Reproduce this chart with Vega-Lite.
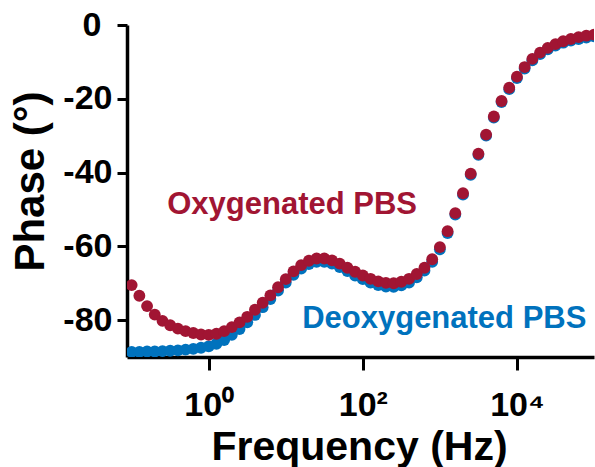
{
  "$schema": "https://vega.github.io/schema/vega-lite/v6.json",
  "width": 467,
  "height": 332,
  "autosize": {"type": "none"},
  "padding": {"left": 127, "top": 25, "right": 1, "bottom": 110},
  "background": "white",
  "config": {
    "view": {"stroke": null},
    "axis": {
      "domainColor": "black", "domainWidth": 3.5, "tickColor": "black", "tickWidth": 3,
      "labelFont": "Liberation Sans", "labelFontWeight": "bold", "labelFontSize": 34, "labelColor": "black",
      "titleFont": "Liberation Sans", "titleFontWeight": "bold", "titleFontSize": 41, "titleColor": "black",
      "grid": false
    }
  },
  "datasets": {
    "pts": [
      {"f":0.1,"s":"D","p":-88.6},{"f":0.12589,"s":"D","p":-88.6},{"f":0.15849,"s":"D","p":-88.5},{"f":0.19953,"s":"D","p":-88.5},{"f":0.25119,"s":"D","p":-88.4},{"f":0.31623,"s":"D","p":-88.3},{"f":0.39811,"s":"D","p":-88.2},{"f":0.50119,"s":"D","p":-88.0},{"f":0.63096,"s":"D","p":-87.8},{"f":0.79433,"s":"D","p":-87.5},
      {"f":1,"s":"D","p":-87.1},{"f":1.2589,"s":"D","p":-86.4},{"f":1.5849,"s":"D","p":-85.4},{"f":1.9953,"s":"D","p":-84.0},{"f":2.5119,"s":"D","p":-82.4},{"f":3.1623,"s":"D","p":-80.6},{"f":3.9811,"s":"D","p":-78.6},{"f":5.0119,"s":"D","p":-76.5},{"f":6.3096,"s":"D","p":-74.3},{"f":7.9433,"s":"D","p":-72.0},
      {"f":10,"s":"D","p":-69.8},{"f":12.589,"s":"D","p":-67.7},{"f":15.849,"s":"D","p":-66.0},{"f":19.953,"s":"D","p":-64.8},{"f":25.119,"s":"D","p":-64.2},{"f":31.623,"s":"D","p":-64.2},{"f":39.811,"s":"D","p":-64.7},{"f":50.119,"s":"D","p":-65.6},{"f":63.096,"s":"D","p":-66.7},{"f":79.433,"s":"D","p":-67.9},
      {"f":100,"s":"D","p":-68.9},{"f":125.89,"s":"D","p":-69.8},{"f":158.49,"s":"D","p":-70.5},{"f":199.53,"s":"D","p":-70.9},{"f":251.19,"s":"D","p":-71.0},{"f":316.23,"s":"D","p":-70.6},{"f":398.11,"s":"D","p":-69.8},{"f":501.19,"s":"D","p":-68.4},{"f":630.96,"s":"D","p":-66.6},{"f":794.33,"s":"D","p":-64.2},
      {"f":1000,"s":"D","p":-60.8},{"f":1258.9,"s":"D","p":-56.4},{"f":1584.9,"s":"D","p":-51.4},{"f":1995.3,"s":"D","p":-46.0},{"f":2511.9,"s":"D","p":-40.6},{"f":3162.3,"s":"D","p":-35.2},{"f":3981.1,"s":"D","p":-30.0},{"f":5011.9,"s":"D","p":-25.1},{"f":6309.6,"s":"D","p":-20.9},{"f":7943.3,"s":"D","p":-17.4},
      {"f":10000,"s":"D","p":-14.4},{"f":12589,"s":"D","p":-11.8},{"f":15849,"s":"D","p":-9.6},{"f":19953,"s":"D","p":-7.9},{"f":25119,"s":"D","p":-6.6},{"f":31623,"s":"D","p":-5.6},{"f":39811,"s":"D","p":-4.8},{"f":50119,"s":"D","p":-4.2},{"f":63096,"s":"D","p":-3.8},{"f":79433,"s":"D","p":-3.4},{"f":100000,"s":"D","p":-3.1},
      {"f":0.1,"s":"O","p":-70.5},{"f":0.12589,"s":"O","p":-73.4},{"f":0.15849,"s":"O","p":-76.2},{"f":0.19953,"s":"O","p":-78.5},{"f":0.25119,"s":"O","p":-80.2},{"f":0.31623,"s":"O","p":-81.4},{"f":0.39811,"s":"O","p":-82.3},{"f":0.50119,"s":"O","p":-83.0},{"f":0.63096,"s":"O","p":-83.5},{"f":0.79433,"s":"O","p":-83.9},
      {"f":1,"s":"O","p":-84.0},{"f":1.2589,"s":"O","p":-83.7},{"f":1.5849,"s":"O","p":-83.0},{"f":1.9953,"s":"O","p":-81.9},{"f":2.5119,"s":"O","p":-80.6},{"f":3.1623,"s":"O","p":-79.1},{"f":3.9811,"s":"O","p":-77.2},{"f":5.0119,"s":"O","p":-75.3},{"f":6.3096,"s":"O","p":-73.3},{"f":7.9433,"s":"O","p":-71.1},
      {"f":10,"s":"O","p":-68.9},{"f":12.589,"s":"O","p":-66.8},{"f":15.849,"s":"O","p":-65.1},{"f":19.953,"s":"O","p":-63.9},{"f":25.119,"s":"O","p":-63.3},{"f":31.623,"s":"O","p":-63.3},{"f":39.811,"s":"O","p":-63.8},{"f":50.119,"s":"O","p":-64.7},{"f":63.096,"s":"O","p":-65.8},{"f":79.433,"s":"O","p":-66.9},
      {"f":100,"s":"O","p":-67.9},{"f":125.89,"s":"O","p":-68.8},{"f":158.49,"s":"O","p":-69.5},{"f":199.53,"s":"O","p":-69.9},{"f":251.19,"s":"O","p":-70.0},{"f":316.23,"s":"O","p":-69.6},{"f":398.11,"s":"O","p":-68.8},{"f":501.19,"s":"O","p":-67.5},{"f":630.96,"s":"O","p":-65.8},{"f":794.33,"s":"O","p":-63.5},
      {"f":1000,"s":"O","p":-60.2},{"f":1258.9,"s":"O","p":-55.9},{"f":1584.9,"s":"O","p":-51.0},{"f":1995.3,"s":"O","p":-45.6},{"f":2511.9,"s":"O","p":-40.3},{"f":3162.3,"s":"O","p":-34.9},{"f":3981.1,"s":"O","p":-29.7},{"f":5011.9,"s":"O","p":-24.8},{"f":6309.6,"s":"O","p":-20.6},{"f":7943.3,"s":"O","p":-17.0},
      {"f":10000,"s":"O","p":-14.0},{"f":12589,"s":"O","p":-11.4},{"f":15849,"s":"O","p":-9.2},{"f":19953,"s":"O","p":-7.5},{"f":25119,"s":"O","p":-6.2},{"f":31623,"s":"O","p":-5.2},{"f":39811,"s":"O","p":-4.4},{"f":50119,"s":"O","p":-3.8},{"f":63096,"s":"O","p":-3.3},{"f":79433,"s":"O","p":-2.9},{"f":100000,"s":"O","p":-2.6}
    ],
    "labels": [
      {"f":12.1,"p":-51.2,"t":"Oxygenated PBS","s":"O"},
      {"f":1140,"p":-82.2,"t":"Deoxygenated PBS","s":"D"}
    ]
  },
  "layer": [
    {
      "data": {"name": "pts"},
      "mark": {"type": "point", "filled": true, "opacity": 1, "size": 140, "clip": true},
      "encoding": {
        "x": {"field": "f", "type": "quantitative",
          "scale": {"type": "log", "domain": [0.087, 100000], "nice": false},
          "axis": {"values": [1, 100, 10000], "tickSize": 13, "labelBaseline": "alphabetic", "labelPadding": 45,
            "labelExpr": "datum.value == 1 ? '10⁰' : datum.value == 100 ? '10²' : '10⁴'",
            "title": "Frequency (Hz)", "titleBaseline": "alphabetic", "titleAnchor": "middle", "titleX": 232, "titleY": 102}},
        "y": {"field": "p", "type": "quantitative",
          "scale": {"domain": [-90, 0], "nice": false, "zero": false},
          "axis": {"values": [-80, -60, -40, -20, 0], "tickSize": 10,
            "labelPadding": {"condition": {"test": "datum.value == 0", "value": 16}, "value": 5},
            "labelExpr": "'' + datum.value",
            "title": "Phase (°)", "titleFontSize": 42, "titleAngle": -90, "titleBaseline": "alphabetic", "titleAlign": "center", "titleX": -84, "titleY": 156}},
        "color": {"field": "s", "type": "nominal", "scale": {"domain": ["D", "O"], "range": ["#0072BD", "#A11533"]}, "legend": null},
        "order": {"field": "s", "type": "nominal", "sort": "ascending"}
      }
    },
    {
      "data": {"name": "labels"},
      "mark": {"type": "text", "font": "Liberation Sans", "fontWeight": "bold", "fontSize": 31, "align": "center", "baseline": "alphabetic"},
      "encoding": {
        "x": {"field": "f", "type": "quantitative"},
        "y": {"field": "p", "type": "quantitative"},
        "text": {"field": "t"},
        "color": {"field": "s", "type": "nominal", "legend": null}
      }
    }
  ]
}
